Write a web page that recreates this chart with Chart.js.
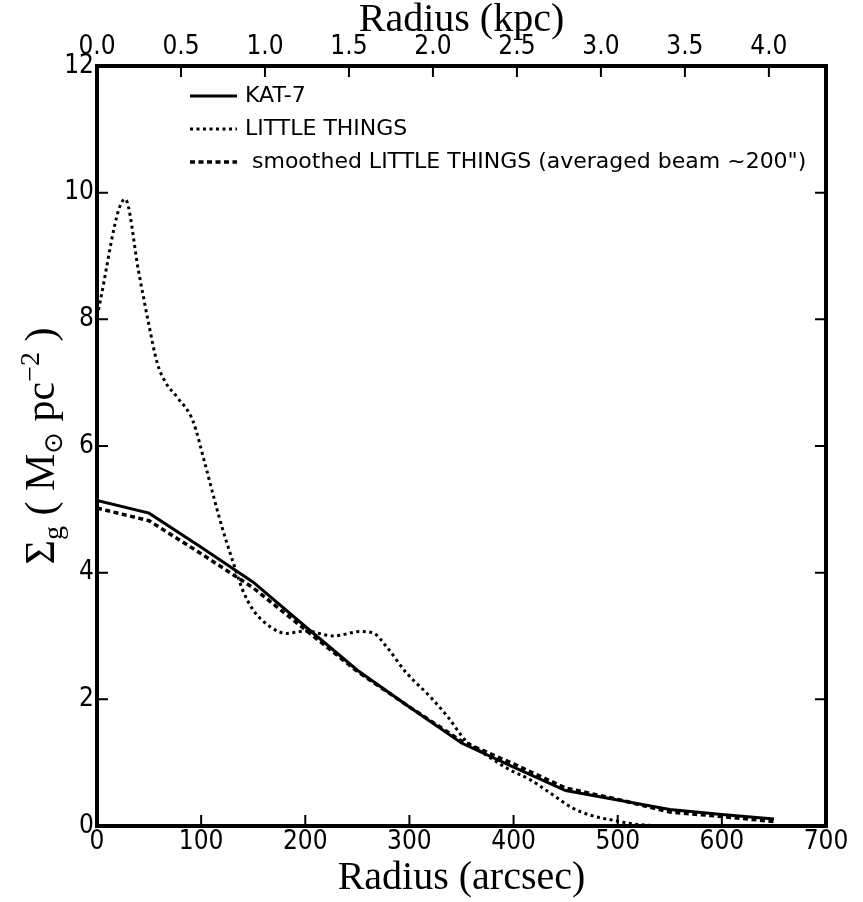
<!DOCTYPE html>
<html lang="en">
<head>
  <meta charset="UTF-8">
  <title>Gas surface density profile</title>
  <script src="https://cdn.jsdelivr.net/npm/chart.js"></script>
  <style>
    html, body { margin: 0; padding: 0; background: #fff; }
  </style>
</head>
<body>
  <canvas id="sigmaChart" width="863" height="902"></canvas>

  <script>
    // radius in arcsec, surface density in M_sun pc^-2
    const radiusKat = [0, 50, 100, 150, 200, 250, 300, 350, 400, 450, 500, 550, 600, 650];
    const sigmaKat = [5.14, 4.94, 4.40, 3.85, 3.15, 2.46, 1.88, 1.31, 0.93, 0.56, 0.41, 0.26, 0.18, 0.11];
    const sigmaSmoothed = [5.02, 4.82, 4.30, 3.76, 3.10, 2.44, 1.88, 1.34, 0.98, 0.60, 0.42, 0.22, 0.15, 0.07];

    const radiusLT = [0, 27, 40, 50, 58, 66, 78, 92, 104, 112, 120, 130, 140, 150, 166, 182, 200, 227, 253, 265,
                      278, 297, 320, 337, 354, 371, 395, 416, 437, 457, 476, 496, 512, 530, 566];
    const sigmaLT = [8.05, 9.9, 8.75, 7.9, 7.3, 7.0, 6.75, 6.4, 5.7, 5.2, 4.72, 4.2, 3.72, 3.41, 3.15, 3.04, 3.08, 3.0, 3.07, 3.05,
                     2.83, 2.42, 2.04, 1.72, 1.35, 1.15, 0.9, 0.73, 0.5, 0.28, 0.16, 0.09, 0.04, 0.01, 0.0];

    const seriesLabels = ['KAT-7', 'LITTLE THINGS', ' smoothed LITTLE THINGS (averaged beam ~200")'];

    const arcsecTicks = [0, 100, 200, 300, 400, 500, 600, 700];
    const sigmaTicks = [0, 2, 4, 6, 8, 10, 12];
    const kpcTicks = [0, 0.5, 1.0, 1.5, 2.0, 2.5, 3.0, 3.5, 4.0];
    const kpcPerArcsec = 0.0062;

    const tickFont = { family: '"DejaVu Sans Condensed", "DejaVu Sans"', size: 26 };
    const serif = '"Liberation Serif", serif';

    const toPoints = (xs, ys) => xs.map((x, i) => ({ x: x, y: ys[i] }));

    // frame, inward ticks, titles and legend in the matplotlib style
    const framePlugin = {
      id: 'frame',
      afterDraw(chart) {
        const { ctx, chartArea: a, scales } = chart;
        ctx.save();
        ctx.strokeStyle = '#000';
        ctx.fillStyle = '#000';
        ctx.lineWidth = 2;
        const len = 11;
        ctx.beginPath();
        arcsecTicks.forEach(v => {
          const px = scales.x.getPixelForValue(v);
          ctx.moveTo(px, a.bottom); ctx.lineTo(px, a.bottom - len);
        });
        kpcTicks.forEach(v => {
          const px = scales.x2.getPixelForValue(v);
          ctx.moveTo(px, a.top); ctx.lineTo(px, a.top + len);
        });
        sigmaTicks.forEach(v => {
          const py = scales.y.getPixelForValue(v);
          ctx.moveTo(a.left, py); ctx.lineTo(a.left + len, py);
          ctx.moveTo(a.right, py); ctx.lineTo(a.right - len, py);
        });
        ctx.stroke();
        ctx.lineWidth = 4;
        ctx.strokeRect(a.left, a.top, a.right - a.left, a.bottom - a.top);

        // axis titles
        const cx = (a.left + a.right) / 2;
        ctx.font = '40px ' + serif;
        ctx.textAlign = 'center';
        ctx.textBaseline = 'alphabetic';
        ctx.fillText('Radius (arcsec)', cx, 889);
        ctx.fillText('Radius (kpc)', cx, 31);

        // y title with sub/superscripts
        const parts = [
          { t: 'Σ', f: '42px ' + serif, dy: 0 },
          { t: 'g', f: '28px ' + serif, dy: 8 },
          { t: ' ( M', f: '42px ' + serif, dy: 0 },
          { t: '⊙', f: '26px "DejaVu Sans", sans-serif', dy: 8 },
          { t: ' pc', f: '42px ' + serif, dy: 0 },
          { t: '−2', f: '28px ' + serif, dy: -15 },
          { t: ' )', f: '42px ' + serif, dy: 0 }
        ];
        let total = 0;
        parts.forEach(p => { ctx.font = p.f; p.w = ctx.measureText(p.t).width; total += p.w; });
        ctx.save();
        ctx.translate(54, (a.top + a.bottom) / 2);
        ctx.rotate(-Math.PI / 2);
        ctx.textAlign = 'left';
        let x = -total / 2;
        parts.forEach(p => { ctx.font = p.f; ctx.fillText(p.t, x, p.dy); x += p.w; });
        ctx.restore();

        // legend
        ctx.font = '22px "DejaVu Sans", sans-serif';
        ctx.textAlign = 'left';
        ctx.textBaseline = 'middle';
        chart.data.datasets.forEach((ds, i) => {
          const y = 96 + i * 33;
          ctx.save();
          ctx.lineWidth = ds.borderWidth;
          ctx.setLineDash(ds.borderDash || []);
          ctx.beginPath();
          ctx.moveTo(190, y); ctx.lineTo(237, y);
          ctx.stroke();
          ctx.restore();
          ctx.fillText(ds.label, 245, y);
        });
        ctx.restore();
      }
    };

    const ctx = document.getElementById('sigmaChart').getContext('2d');
    new Chart(ctx, {
      type: 'line',
      data: {
        datasets: [
          {
            label: seriesLabels[0],
            data: toPoints(radiusKat, sigmaKat),
            borderColor: '#000', borderWidth: 3, pointRadius: 0, tension: 0
          },
          {
            label: seriesLabels[1],
            data: toPoints(radiusLT, sigmaLT),
            borderColor: '#000', borderWidth: 3, borderDash: [3, 3.5], pointRadius: 0,
            cubicInterpolationMode: 'monotone'
          },
          {
            label: seriesLabels[2],
            data: toPoints(radiusKat, sigmaSmoothed),
            borderColor: '#000', borderWidth: 3.5, borderDash: [5, 3.5], pointRadius: 0, tension: 0
          }
        ]
      },
      options: {
        responsive: false,
        animation: false,
        devicePixelRatio: 1,
        layout: { padding: { left: 0, right: 37, top: 0, bottom: 0 } },
        plugins: { legend: { display: false }, tooltip: { enabled: false } },
        scales: {
          x: {
            type: 'linear', position: 'bottom', min: 0, max: 700,
            afterBuildTicks: s => { s.ticks = arcsecTicks.map(v => ({ value: v })); },
            afterFit: s => { s.height = 76; },
            grid: { display: false, drawTicks: false },
            border: { display: false },
            ticks: { color: '#000', font: tickFont, padding: 1, maxRotation: 0, autoSkip: false }
          },
          x2: {
            type: 'linear', position: 'top', min: 0, max: 700 * kpcPerArcsec,
            afterBuildTicks: s => { s.ticks = kpcTicks.map(v => ({ value: v })); },
            afterFit: s => { s.height = 66; },
            grid: { display: false, drawTicks: false },
            border: { display: false },
            ticks: { color: '#000', font: tickFont, padding: 3, maxRotation: 0, autoSkip: false,
                     callback: v => v.toFixed(1) }
          },
          y: {
            type: 'linear', min: 0, max: 12,
            afterBuildTicks: s => { s.ticks = sigmaTicks.map(v => ({ value: v })); },
            afterFit: s => { s.width = 97; },
            grid: { display: false, drawTicks: false },
            border: { display: false },
            ticks: { color: '#000', font: tickFont, padding: 3 }
          }
        }
      },
      plugins: [framePlugin]
    });
  </script>
</body>
</html>
